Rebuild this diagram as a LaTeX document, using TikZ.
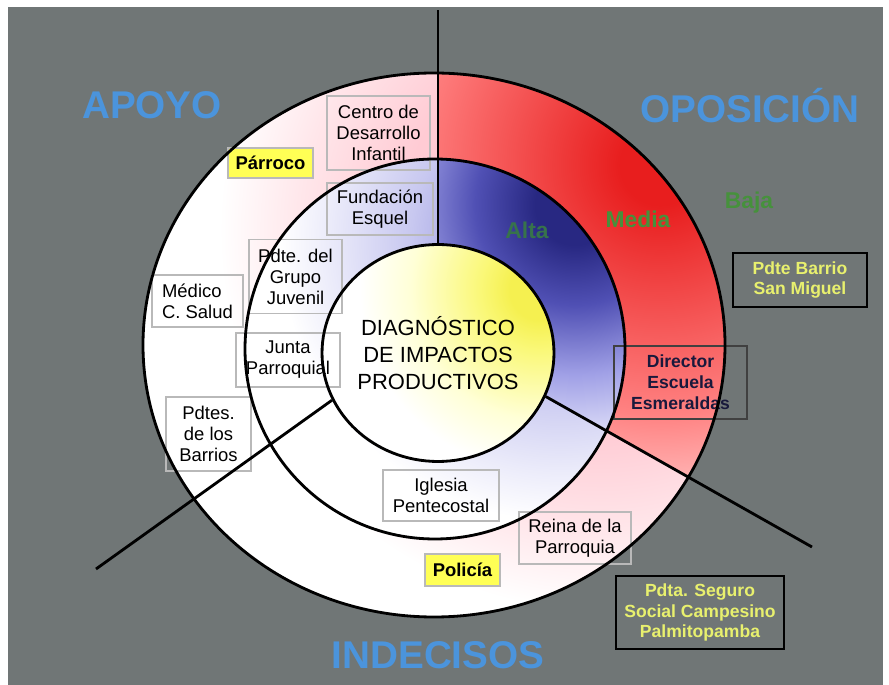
\documentclass[tikz,border=0pt]{standalone}
\usepackage{fontspec}
\setmainfont{Liberation Sans}
\usepackage{xcolor}
\usepackage{tikz}
\usetikzlibrary{shapes.geometric}
\definecolor{slate}{RGB}{112,118,118}
\definecolor{headblue}{RGB}{75,148,220}
\definecolor{levelgreen}{RGB}{70,145,60}
\definecolor{altagreen}{RGB}{55,115,75}
\definecolor{boxyellow}{RGB}{255,255,85}
\definecolor{outyellow}{RGB}{232,240,110}
\definecolor{navytext}{RGB}{25,25,60}
\definecolor{oppred}{RGB}{232,30,30}
\definecolor{opppink}{RGB}{255,130,130}
\definecolor{opplight}{RGB}{255,200,200}
\definecolor{oppfade}{RGB}{255,225,225}
\definecolor{hazepink}{RGB}{255,195,205}
\definecolor{hazepinkb}{RGB}{255,203,212}
\definecolor{hazelight}{RGB}{255,230,234}
\definecolor{oppblue}{RGB}{40,40,130}
\definecolor{oppbluemid}{RGB}{80,80,180}
\definecolor{oppbluelt}{RGB}{160,160,230}
\definecolor{oppbluefade}{RGB}{230,230,250}
\definecolor{lavender}{RGB}{170,170,230}
\definecolor{lavendermid}{RGB}{200,200,240}
\definecolor{lavenderlt}{RGB}{235,235,250}
\definecolor{coreyellow}{RGB}{245,240,80}
\definecolor{coreyellowmid}{RGB}{250,248,120}
\definecolor{coreyellowlt}{RGB}{255,255,215}
\pgfdeclareradialshading{redglow}{\pgfpointorigin}{color(0bp)=(oppred); color(2.5bp)=(oppred); color(15.6bp)=(opppink); color(21.6bp)=(opplight); color(25bp)=(oppfade); color(50bp)=(oppfade)}
\pgfdeclareradialshading{pinkhaze}{\pgfpointorigin}{color(0bp)=(hazepink); color(9.6bp)=(hazepinkb); color(14.4bp)=(hazelight); color(18.3bp)=(white); color(50bp)=(white)}
\pgfdeclareradialshading{blueglow}{\pgfpointorigin}{color(0bp)=(oppblue); color(2.5bp)=(oppblue); color(6.25bp)=(oppbluemid); color(10.6bp)=(oppbluelt); color(15bp)=(oppbluefade); color(18.75bp)=(white); color(50bp)=(white)}
\pgfdeclareradialshading{lavhaze}{\pgfpointorigin}{color(0bp)=(lavender); color(5.6bp)=(lavender); color(8.3bp)=(lavendermid); color(12.8bp)=(lavenderlt); color(15.6bp)=(white); color(50bp)=(white)}
\pgfdeclareradialshading{yellowglow}{\pgfpointorigin}{color(0bp)=(coreyellow); color(2.5bp)=(coreyellow); color(5bp)=(coreyellowmid); color(10.8bp)=(coreyellowlt); color(15bp)=(white); color(50bp)=(white)}
\tikzset{
  stake/.style={draw=gray!55, line width=0.6pt, align=center, inner sep=1pt, font=\fontsize{10.5}{12}\selectfont},
  keystake/.style={stake, fill=boxyellow, font=\fontsize{10.5}{12}\selectfont\bfseries},
  edgestake/.style={stake, draw=black!75, line width=0.9pt, text=navytext, font=\fontsize{10}{12}\selectfont\bfseries},
  farstake/.style={draw=black, line width=1pt, align=center, inner sep=1pt, text=outyellow, font=\fontsize{10}{11.6}\selectfont\bfseries},
  sector/.style={text=headblue, font=\fontsize{22}{24}\selectfont\bfseries},
  level/.style={text=levelgreen, font=\fontsize{13}{14}\selectfont\bfseries},
  ring/.style={line width=1.6pt},
  divider/.style={line width=1.6pt},
  core/.style={ellipse, draw, line width=1.6pt, minimum width=4.64cm, minimum height=4.34cm, inner sep=0pt, align=center, font=\fontsize{12.5}{15.3}\selectfont}
}

\begin{document}
\begin{tikzpicture}[x=0.02cm,y=-0.02cm]
  \useasboundingbox (0,0) rectangle (889,685);
  \fill[white] (0,0) rectangle (889,685);
  \fill[slate] (8,7) rectangle (883,685);

  % outer ring: pale haze, red in the opposition sector
  \begin{scope}
    \clip (434,345) ellipse (291 and 272);
    \shade[shading=pinkhaze] (600,230) circle (520);
    \clip (438,337) -- (438,0) -- (889,0) -- (889,590) -- cycle;
    \shade[shading=redglow] (660,165) circle (400);
  \end{scope}
  % middle ring: lavender haze, blue in the opposition sector
  \begin{scope}
    \clip (435,349) circle (190);
    \shade[shading=lavhaze] (560,240) circle (450);
    \clip (438,337) -- (438,0) -- (889,0) -- (889,590) -- cycle;
    \shade[shading=blueglow] (575,205) circle (400);
  \end{scope}
  % core
  \begin{scope}
    \clip (438,353) ellipse (116 and 108.5);
    \shade[shading=yellowglow] (540,290) circle (300);
  \end{scope}

  \node[sector] (apoyo) at (152,105) {APOYO};
  \node[sector] (oposicion) at (750,106) {OPOSICIÓN};
  \node[sector] (indecisos) at (438,655) {INDECISOS};
  \node[level, text=altagreen] (alta) at (527,230) {Alta};
  \node[level] (media) at (638,219) {Media};
  \node[level] (baja) at (749,203) {Baja};

  \node[stake, minimum width=2.06cm, minimum height=1.48cm] (centro) at (378.5,133) {Centro de\\Desarrollo\\Infantil};
  \node[keystake, minimum width=1.7cm, minimum height=0.6cm] (parroco) at (270.5,163) {Párroco};
  \node[stake, minimum width=2.12cm, minimum height=1.04cm] (fundacion) at (380,209) {Fundación\\Esquel};
  \node[stake, minimum width=1.86cm, minimum height=1.48cm] (juvenil) at (295.5,276.5) {Pdte. del\\Grupo\\Juvenil};
  \node[stake, align=left, minimum width=1.82cm, minimum height=1.04cm] (medico) at (197.5,301) {Médico\\C. Salud};
  \node[stake, minimum width=2.08cm, minimum height=1.08cm] (junta) at (288,360) {Junta\\Parroquial};
  \node[stake, minimum width=1.7cm, minimum height=1.48cm] (barrios) at (208.5,434) {Pdtes.\\de los\\Barrios};
  \node[stake, minimum width=2.32cm, minimum height=1.02cm] (iglesia) at (441,495.5) {Iglesia\\Pentecostal};
  \node[stake, minimum width=2.24cm, minimum height=1.04cm] (reina) at (575,538) {Reina de la\\Parroquia};
  \node[keystake, minimum width=1.5cm, minimum height=0.64cm] (policia) at (462.5,570) {Policía};
  \node[edgestake, minimum width=2.66cm, minimum height=1.46cm] (director) at (680.5,382.5) {Director\\Escuela\\Esmeraldas};
  \node[farstake, minimum width=2.68cm, minimum height=1.08cm] (sanmiguel) at (800,280) {Pdte Barrio\\San Miguel};
  \node[farstake, minimum width=3.36cm, minimum height=1.46cm] (seguro) at (700,612.5) {Pdta. Seguro\\Social Campesino\\Palmitopamba};

  \draw[ring] (434,345) ellipse (291 and 272);
  \draw[ring] (435,349) circle (190);
  \node[core] (core) at (438,353) {DIAGNÓSTICO\\DE IMPACTOS\\PRODUCTIVOS};

  \coordinate (topend) at (438,10);
  \coordinate (leftend) at (96,569);
  \coordinate (rightend) at (812,547);
  \draw[divider] (core.north) -- (topend);
  \draw[divider] (core.204) -- (leftend);
  \draw[divider] (core.338) -- (rightend);
\end{tikzpicture}
\end{document}
